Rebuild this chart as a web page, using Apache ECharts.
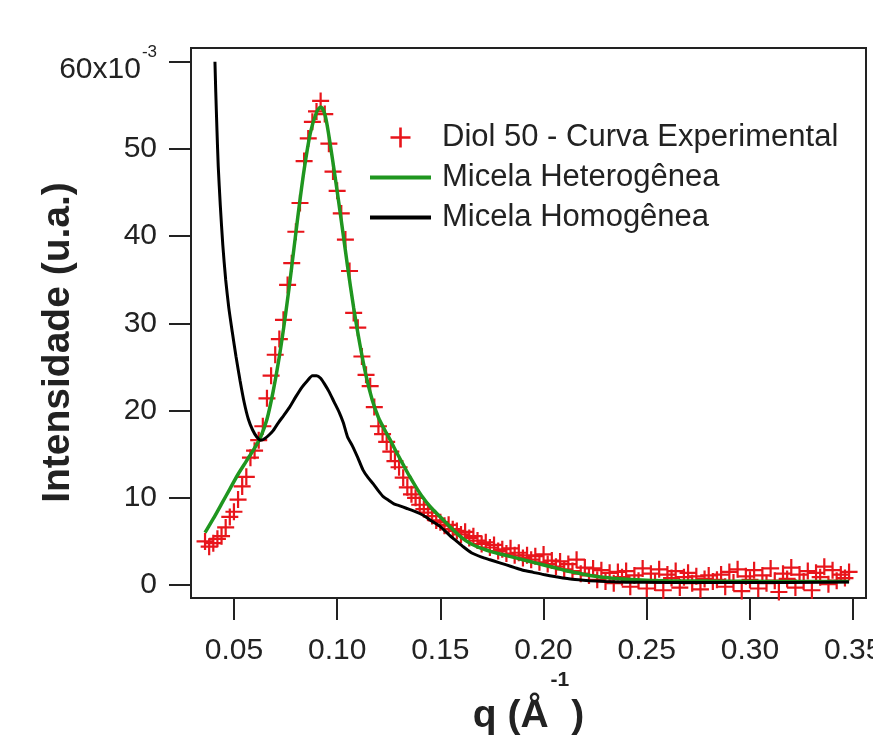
<!DOCTYPE html>
<html>
<head>
<meta charset="utf-8">
<script src="https://cdn.jsdelivr.net/npm/echarts@6/dist/echarts.min.js"></script>
<style>
  html, body { margin: 0; padding: 0; background: #ffffff; }
  #chart { width: 873px; height: 735px; }
</style>
</head>
<body>
<div id="chart"></div>
<script>
// ---------- Data (intensities in units of 10^-3) ----------
const expQ = [
  0.036, 0.038, 0.040, 0.042, 0.044, 0.046, 0.048, 0.050, 0.052, 0.054,
  0.056, 0.058, 0.060, 0.062, 0.064, 0.066, 0.068, 0.070, 0.072, 0.074,
  0.076, 0.078, 0.080, 0.082, 0.084, 0.086, 0.088, 0.090, 0.092, 0.094,
  0.096, 0.098, 0.100, 0.102, 0.104, 0.106, 0.108, 0.110, 0.112, 0.114,
  0.116, 0.118, 0.120, 0.122, 0.124, 0.126, 0.128, 0.130, 0.132, 0.134,
  0.136, 0.138, 0.140, 0.142, 0.144, 0.146, 0.148, 0.150, 0.152, 0.154,
  0.156, 0.158, 0.160, 0.162, 0.164, 0.166, 0.168, 0.170, 0.172, 0.174,
  0.176, 0.178, 0.180, 0.182, 0.184, 0.186, 0.188, 0.190, 0.192, 0.194,
  0.196, 0.198, 0.200, 0.202, 0.204, 0.206, 0.208, 0.210, 0.212, 0.214,
  0.216, 0.218, 0.220, 0.222, 0.224, 0.226, 0.228, 0.230, 0.232, 0.234,
  0.236, 0.238, 0.240, 0.242, 0.244, 0.246, 0.248, 0.250, 0.252, 0.254,
  0.256, 0.258, 0.260, 0.262, 0.264, 0.266, 0.268, 0.270, 0.272, 0.274,
  0.276, 0.278, 0.280, 0.282, 0.284, 0.286, 0.288, 0.290, 0.292, 0.294,
  0.296, 0.298, 0.300, 0.302, 0.304, 0.306, 0.308, 0.310, 0.312, 0.314,
  0.316, 0.318, 0.320, 0.322, 0.324, 0.326, 0.328, 0.330, 0.332, 0.334,
  0.336, 0.338, 0.340, 0.342, 0.344, 0.346, 0.348
];
const expI = [
  5.0, 4.4, 4.8, 5.3, 5.6, 6.6, 7.8, 8.4, 9.8, 11.3,
  12.4, 14.6, 15.4, 16.6, 18.2, 21.4, 24.0, 26.4, 28.2, 30.4,
  34.4, 36.9, 40.5, 43.8, 48.6, 51.2, 53.1, 54.3, 55.5, 54.0,
  50.6, 47.4, 45.2, 42.6, 39.6, 36.0, 31.2, 29.5, 26.2, 24.1,
  22.8, 20.4, 18.2, 17.3, 16.4, 15.3, 14.2, 13.5, 12.3, 11.2,
  10.4, 10.0, 9.2, 8.7, 8.3, 7.9, 7.4, 7.2, 6.8, 6.9,
  6.4, 6.2, 5.8, 6.1, 5.4, 5.6, 5.1, 4.7, 4.9, 4.3,
  4.6, 3.9, 4.1, 3.6, 4.2, 3.4, 3.7, 3.1, 3.4, 2.9,
  3.3, 2.6, 3.5, 2.4, 2.8, 2.1, 2.7, 1.8, 2.4, 1.6,
  2.9, 1.3, 2.0, 1.1, 1.9, 0.6, 1.7, 0.4, 1.4, 0.2,
  1.5, 0.9, 1.6, -0.2, 1.1, 0.5, 1.9, -0.4, 1.3, 0.3,
  1.8, -0.6, 1.2, 0.8, 1.6, -0.3, 0.9, 1.4, 0.2, 1.0,
  -0.5, 0.7, 1.1, 0.4, 0.6, 1.2, -0.2, 1.5, 0.3, 1.8,
  -0.7, 1.0, 0.6, 1.7, -0.4, 1.1, 0.2, 1.9, 0.5, -0.8,
  1.3, 0.7, 2.0, -0.3, 1.2, 0.4, 1.6, -0.6, 1.4, 0.9,
  2.1, 0.1, 1.7, 0.5, 1.2, 0.8, 1.5
];

const hetQ = [
  0.036, 0.040, 0.044, 0.048, 0.052, 0.056, 0.060, 0.063, 0.066, 0.069,
  0.072, 0.075, 0.078, 0.081, 0.084, 0.087, 0.090, 0.092, 0.094, 0.096,
  0.099, 0.102, 0.105, 0.108, 0.111, 0.114, 0.117, 0.120, 0.123, 0.126,
  0.129, 0.132, 0.135, 0.138, 0.141, 0.145, 0.150, 0.155, 0.160, 0.165,
  0.170, 0.175, 0.180, 0.185, 0.190, 0.195, 0.200, 0.205, 0.210, 0.215,
  0.220, 0.225, 0.230, 0.235, 0.240, 0.250, 0.260, 0.280, 0.300, 0.320,
  0.348
];
const hetI = [
  6.0, 7.6, 9.3, 11.0, 12.7, 14.2, 15.7, 17.0, 19.0, 22.2,
  26.2, 31.0, 36.5, 42.3, 47.6, 51.8, 54.2, 54.8, 54.0, 51.5,
  46.8, 41.8, 36.6, 31.8, 27.6, 24.0, 21.2, 19.2, 17.8, 16.5,
  15.1, 13.8, 12.5, 11.3, 10.2, 9.0, 7.8, 6.6, 5.5, 4.7,
  4.2, 3.8, 3.5, 3.2, 2.9, 2.6, 2.3, 2.0, 1.7, 1.45,
  1.2, 1.0, 0.85, 0.75, 0.65, 0.55, 0.5, 0.45, 0.42, 0.4,
  0.4
];

const homQ = [
  0.0408, 0.0412, 0.0418, 0.0424, 0.0434, 0.0446, 0.0460, 0.0475, 0.0492, 0.0510,
  0.0530, 0.0550, 0.0570, 0.0590, 0.0610, 0.0630, 0.0650, 0.0670, 0.0690, 0.0715,
  0.0740, 0.0770, 0.0800, 0.0830, 0.0855, 0.0880, 0.0900, 0.0920, 0.0940, 0.0960,
  0.0985, 0.1010, 0.1030, 0.1050, 0.1075, 0.1100, 0.1125, 0.1150, 0.1175, 0.1200,
  0.1225, 0.1250, 0.1275, 0.1300, 0.1335, 0.1370, 0.1400, 0.1430, 0.1460, 0.1500,
  0.1545, 0.1580, 0.1610, 0.1650, 0.1700, 0.1740, 0.1780, 0.1820, 0.1860, 0.1900,
  0.1950, 0.2000, 0.2060, 0.2140, 0.2220, 0.2300, 0.2400, 0.2600, 0.2800, 0.3000,
  0.3200, 0.3480
];
const homI = [
  60.0, 56.5, 52.0, 48.0, 43.5, 39.0, 35.0, 31.8, 29.0, 26.2,
  23.4, 20.9, 19.0, 17.8, 17.0, 16.6, 16.8, 17.2, 17.7, 18.6,
  19.4, 20.4, 21.6, 22.7, 23.4, 24.0, 24.0, 23.7, 23.0, 22.2,
  21.0, 19.8, 18.6, 17.0, 15.9, 14.6, 13.2, 12.3, 11.6, 10.8,
  10.1, 9.7, 9.3, 9.1, 8.8, 8.5, 8.2, 7.8, 7.3, 6.7,
  5.7, 5.0, 4.4, 3.7, 3.2, 2.9, 2.6, 2.3, 2.0, 1.7,
  1.45, 1.2, 0.95, 0.65, 0.5, 0.4, 0.32, 0.3, 0.3, 0.3,
  0.3, 0.35
];

const xTicks = [0.05, 0.10, 0.15, 0.20, 0.25, 0.30, 0.35];
const yTicks = [0, 10, 20, 30, 40, 50, 60];

const seriesNames = ['Diol 50 - Curva Experimental', 'Micela Heterogênea', 'Micela Homogênea'];
const xTitle = 'q (Å';
const yTitle = 'Intensidade (u.a.)';

// ---------- Chart ----------
const FONT = '"Liberation Sans", Arial, sans-serif';
const INK = '#222222';
const RED = '#e8151b';
const GREEN = '#1f961f';
const BLACK = '#000000';
const plusPath = 'path://M8.7,0H11.3V8.7H20V11.3H11.3V20H8.7V11.3H0V8.7H8.7Z';
const linePath = 'path://M0,0H61V4H0Z';

const chart = echarts.init(document.getElementById('chart'), null, { renderer: 'canvas' });

const option = {
  animation: false,
  backgroundColor: '#ffffff',
  grid: {
    left: 191, right: 7, top: 48, bottom: 137,
    containLabel: false,
    outerBoundsMode: 'none',
    show: true, borderColor: INK, borderWidth: 2, backgroundColor: 'transparent'
  },
  legend: {
    left: 365, top: 117, orient: 'vertical',
    itemWidth: 61, itemHeight: 20, itemGap: 9,
    symbolKeepAspect: true,
    itemStyle: { borderWidth: 0 },
    textStyle: { fontFamily: FONT, fontSize: 31, lineHeight: 30, color: INK, padding: [0, 0, 0, 6] },
    data: [
      { name: seriesNames[0], icon: plusPath },
      { name: seriesNames[1], icon: linePath },
      { name: seriesNames[2], icon: linePath }
    ],
    selectedMode: false
  },
  xAxis: {
    type: 'value',
    min: 0.0292, max: 0.3562,
    name: '{t|' + xTitle + '}{s|-1}{t|)}',
    nameLocation: 'middle',
    nameGap: 72,
    nameMoveOverlap: false,
    nameTextStyle: {
      rich: {
        t: { fontFamily: FONT, fontSize: 39, fontWeight: 'bold', lineHeight: 45, color: INK, padding: [48, 0, 0, 0] },
        s: { fontFamily: FONT, fontSize: 21, fontWeight: 'bold', lineHeight: 24, color: INK, verticalAlign: 'top', padding: [0, 2, 0, 2] }
      }
    },
    axisLine: { show: true, onZero: false, lineStyle: { color: INK, width: 2 } },
    axisTick: { show: true, inside: false, length: 22, customValues: xTicks, lineStyle: { color: INK, width: 2 } },
    axisLabel: {
      customValues: xTicks,
      margin: 38,
      fontFamily: FONT, fontSize: 30, color: INK,
      formatter: v => v.toFixed(2)
    },
    splitLine: { show: false }
  },
  yAxis: {
    type: 'value',
    min: -1.49, max: 61.57,
    name: yTitle,
    nameLocation: 'middle',
    nameGap: 110,
    nameMoveOverlap: false,
    nameTextStyle: { fontFamily: FONT, fontSize: 39, fontWeight: 'bold', lineHeight: 45, color: INK, padding: [0, 39, 0, 0] },
    axisLine: { show: true, onZero: false, lineStyle: { color: INK, width: 2 } },
    axisTick: { show: true, inside: false, length: 22, customValues: yTicks, lineStyle: { color: INK, width: 2 } },
    axisLabel: {
      customValues: yTicks,
      margin: 34,
      fontFamily: FONT, fontSize: 30, color: INK,
      formatter: v => (v === 60 ? '{b|60x10}{s|-3}' : String(v)),
      rich: {
        b: { fontFamily: FONT, fontSize: 30, color: INK, padding: [16, 0, 0, 0] },
        s: { fontFamily: FONT, fontSize: 17, color: INK, verticalAlign: 'top', padding: [5, 0, 0, 1] }
      }
    },
    splitLine: { show: false }
  },
  series: [
    {
      name: seriesNames[0],
      type: 'scatter',
      data: expQ.map((q, i) => [q, expI[i]]),
      symbol: plusPath,
      symbolSize: 17,
      itemStyle: { color: RED, opacity: 1 },
      z: 2
    },
    {
      name: seriesNames[1],
      type: 'line',
      data: hetQ.map((q, i) => [q, hetI[i]]),
      showSymbol: false,
      smooth: 0.3,
      color: GREEN,
      itemStyle: { color: GREEN },
      lineStyle: { color: GREEN, width: 3.5 },
      z: 3
    },
    {
      name: seriesNames[2],
      type: 'line',
      data: homQ.map((q, i) => [q, homI[i]]),
      showSymbol: false,
      smooth: 0.2,
      color: BLACK,
      itemStyle: { color: BLACK },
      lineStyle: { color: BLACK, width: 3 },
      z: 4
    }
  ]
};

chart.setOption(option);
</script>
</body>
</html>
